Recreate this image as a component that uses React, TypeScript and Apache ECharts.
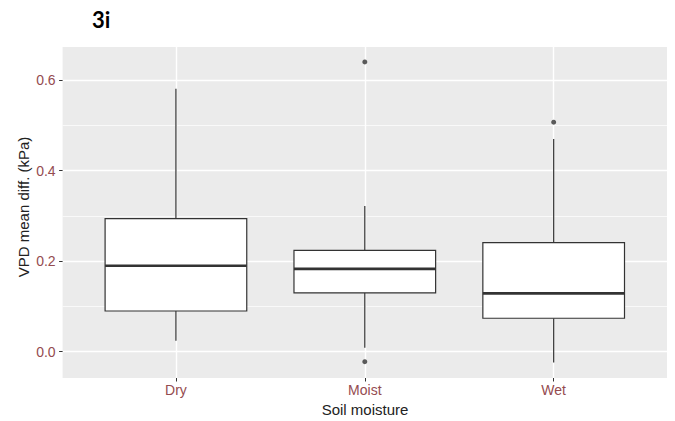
import React, { useEffect, useRef } from "react";
import * as echarts from "echarts";

// Soil moisture classes and their box statistics (kPa)
const categories = ["Dry", "Moist", "Wet"];
const lowerWhisker = [0.024, 0.009, -0.024];
const q1 = [0.09, 0.13, 0.074];
const median = [0.19, 0.183, 0.129];
const q3 = [0.294, 0.224, 0.241];
const upperWhisker = [0.581, 0.322, 0.47];
// outliers as [category index, value]
const outliers: [number, number][] = [
  [1, 0.64],
  [1, -0.022],
  [2, 0.507],
];
const yMajorTicks = [0, 0.2, 0.4, 0.6];
const yMinorTicks = [0.1, 0.3, 0.5];

const LABEL_COLOR = "#944b50";
const LINE_COLOR = "#333333";
const FONT = "'Liberation Sans', Arial, sans-serif";

export default function App() {
  const ref = useRef<HTMLDivElement>(null);

  useEffect(() => {
    if (!ref.current) return;
    const chart = echarts.init(ref.current, undefined, { renderer: "svg" });

    const boxData = categories.map((_, i) => [
      i + 1,
      lowerWhisker[i],
      q1[i],
      median[i],
      q3[i],
      upperWhisker[i],
    ]);
    const outlierData = outliers.map(([c, v]) => [c + 1, v]);

    const option: echarts.EChartsOption = {
      animation: false,
      grid: {
        left: 62.6,
        right: 8,
        top: 47,
        bottom: 43,
        show: true,
        backgroundColor: "#EBEBEB",
        borderWidth: 0,
      },
      xAxis: {
        type: "value",
        min: 0.4,
        max: 3.6,
        position: "bottom",
        axisLine: { show: false, onZero: false },
        axisTick: {
          show: true,
          customValues: [1, 2, 3],
          length: 3.5,
          lineStyle: { color: LINE_COLOR, width: 1 },
        },
        axisLabel: {
          customValues: [1, 2, 3],
          formatter: (v: number) => categories[Math.round(v) - 1] ?? "",
          color: LABEL_COLOR,
          fontFamily: FONT,
          fontSize: 14,
          margin: 5,
        },
        splitLine: { show: true, lineStyle: { color: "#FFFFFF", width: 1.4 } },
      },
      yAxis: [
        {
          type: "value",
          min: -0.058,
          max: 0.673,
          axisLine: { show: false, onZero: false },
          axisTick: {
            show: true,
            customValues: yMajorTicks,
            length: 3.5,
            lineStyle: { color: LINE_COLOR, width: 1 },
          },
          axisLabel: {
            customValues: yMajorTicks,
            formatter: (v: number) => v.toFixed(1),
            color: LABEL_COLOR,
            fontFamily: FONT,
            fontSize: 14,
            margin: 7,
          },
          splitLine: { show: true, lineStyle: { color: "#FFFFFF", width: 1.4 } },
        },
        {
          type: "value",
          min: -0.058,
          max: 0.673,
          position: "left",
          axisLine: { show: false, onZero: false },
          axisTick: { show: false, customValues: yMinorTicks },
          axisLabel: { show: false, customValues: yMinorTicks },
          splitLine: { show: true, lineStyle: { color: "#FFFFFF", width: 0.7 } },
        },
      ],
      series: [
        {
          type: "custom",
          xAxisIndex: 0,
          yAxisIndex: 0,
          data: boxData,
          encode: { x: 0, y: [1, 2, 3, 4, 5] },
          renderItem: (params: any, api: any) => {
            const x = api.value(0);
            const lo = api.coord([x, api.value(1)]);
            const b1 = api.coord([x, api.value(2)]);
            const md = api.coord([x, api.value(3)]);
            const b3 = api.coord([x, api.value(4)]);
            const hi = api.coord([x, api.value(5)]);
            const halfW = api.size([0.75, 0])[0] / 2;
            const cx = lo[0];
            return {
              type: "group",
              children: [
                {
                  type: "line",
                  shape: { x1: cx, y1: hi[1], x2: cx, y2: b3[1] },
                  style: { stroke: LINE_COLOR, lineWidth: 1.2 },
                },
                {
                  type: "line",
                  shape: { x1: cx, y1: b1[1], x2: cx, y2: lo[1] },
                  style: { stroke: LINE_COLOR, lineWidth: 1.2 },
                },
                {
                  type: "rect",
                  shape: {
                    x: cx - halfW,
                    y: b3[1],
                    width: halfW * 2,
                    height: b1[1] - b3[1],
                  },
                  style: { fill: "#FFFFFF", stroke: LINE_COLOR, lineWidth: 1.2 },
                },
                {
                  type: "line",
                  shape: { x1: cx - halfW, y1: md[1], x2: cx + halfW, y2: md[1] },
                  style: { stroke: LINE_COLOR, lineWidth: 2.6 },
                },
              ],
            };
          },
        },
        {
          type: "scatter",
          xAxisIndex: 0,
          yAxisIndex: 0,
          data: outlierData,
          symbol: "circle",
          symbolSize: 5,
          itemStyle: { color: LINE_COLOR },
        },
      ],
      graphic: [
        {
          type: "text",
          left: 92,
          top: 8,
          style: {
            text: "3i",
            font: "bold 22px Lato, 'Open Sans', sans-serif",
            fill: "#000000",
          },
        },
        {
          type: "text",
          x: 23,
          y: 207,
          rotation: Math.PI / 2,
          style: {
            text: "VPD mean diff. (kPa)",
            font: `15px ${FONT}`,
            fill: "#222222",
            align: "center",
            verticalAlign: "middle",
          },
        },
        {
          type: "text",
          x: 365,
          y: 409,
          style: {
            text: "Soil moisture",
            font: `15px ${FONT}`,
            fill: "#222222",
            align: "center",
            verticalAlign: "middle",
          },
        },
      ],
    };

    chart.setOption(option);
    return () => chart.dispose();
  }, []);

  return (
    <div
      ref={ref}
      style={{ position: "absolute", left: 0, top: 0, width: 675, height: 421 }}
    />
  );
}
